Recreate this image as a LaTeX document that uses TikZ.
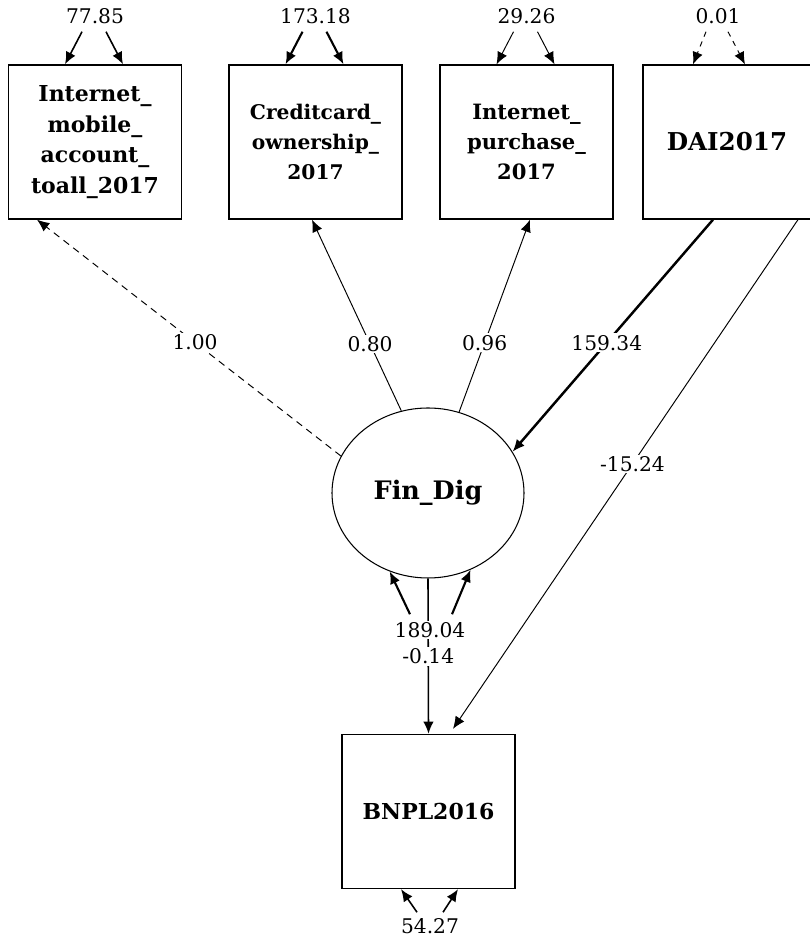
\documentclass[tikz,border=0pt]{standalone}
\usepackage{fontspec}
\setmainfont{DejaVu Serif}
\usetikzlibrary{arrows.meta,shapes.geometric}

\begin{document}
\begin{tikzpicture}[
    obs/.style={draw,line width=.75pt,minimum width=3.46cm,minimum height=3.08cm,align=center,
        font=\bfseries\fontsize{12.5}{17.5}\selectfont},
    lat/.style={draw,ellipse,line width=.6pt,minimum width=3.84cm,minimum height=3.4cm,
        font=\bfseries\fontsize{14.5}{16}\selectfont},
    est/.style={fill=white,inner sep=1pt,font=\fontsize{11.5}{13}\selectfont},
    arr/.style={-{Latex[length=7pt,width=6pt]},line width=.55pt}]

        \useasboundingbox (0,0) rectangle (16.2,18.82); % page
        \clip (0,0) rectangle (16.2,18.82);

        % observed variables
        \node [obs] (iacc) at (1.9,15.98) {Internet\_\\mobile\_\\account\_\\toall\_2017};
        \node [obs,font=\bfseries\fontsize{11.5}{17}\selectfont] (ccown) at (6.31,15.98) {Creditcard\_\\ownership\_\\2017};
        \node [obs,font=\bfseries\fontsize{12}{17}\selectfont] (ipur) at (10.53,15.98) {Internet\_\\purchase\_\\2017};
        \node [obs,minimum width=3.7cm,font=\bfseries\fontsize{14}{17}\selectfont] (dai) at (14.71,15.98) {DAI2017\hspace*{.34cm}}; % cut at right
        \node [obs,font=\bfseries\fontsize{12.5}{17}\selectfont] (bnpl) at (8.57,2.59) {BNPL2016};

        % latent variable
        \node [lat] (findig) at (8.56,8.96) {Fin\_Dig};

        % variances on top
        \node [est] (v1) at (1.9,18.5) {77.85};
        \node [est] (v2) at (6.31,18.5) {173.18};
        \node [est] (v3) at (10.53,18.5) {29.26};
        \node [est] (v4) at (14.36,18.5) {0.01};

        \draw [arr,line width=.9pt] ([xshift=-.26cm,yshift=-.12cm]v1.south) -- ([xshift=-.6cm]iacc.north);
        \draw [arr,line width=.9pt] ([xshift=.22cm,yshift=-.12cm]v1.south) -- ([xshift=.56cm]iacc.north);
        \draw [arr,line width=1.2pt] ([xshift=-.26cm,yshift=-.12cm]v2.south) -- ([xshift=-.6cm]ccown.north);
        \draw [arr,line width=1.2pt] ([xshift=.22cm,yshift=-.12cm]v2.south) -- ([xshift=.56cm]ccown.north);
        \draw [arr] ([xshift=-.26cm,yshift=-.12cm]v3.south) -- ([xshift=-.6cm]ipur.north);
        \draw [arr] ([xshift=.22cm,yshift=-.12cm]v3.south) -- ([xshift=.56cm]ipur.north);
        \draw [arr,dashed] ([xshift=-.24cm,yshift=-.12cm]v4.south) -- ([xshift=-.85cm]dai.north);
        \draw [arr,dashed] ([xshift=.2cm,yshift=-.12cm]v4.south) -- ([xshift=.19cm]dai.north);

        % loadings
        \draw [arr,dash pattern=on 4pt off 3pt] (findig.157) -- node [est,pos=.48] {1.00} ([xshift=-1.16cm]iacc.south);
        \draw [arr] (findig.108) -- node [est,pos=.35] {0.80} ([xshift=-.07cm]ccown.south);
        \draw [arr] (findig.69) -- node [est,pos=.36] {0.96} ([xshift=.07cm]ipur.south);

        % regressions
        \draw [arr,line width=1.4pt] ([xshift=-.45cm]dai.south) -- node [est,pos=.53] {159.34} (findig.26);
        \draw [arr] ([xshift=1.25cm]dai.south) -- node [est,pos=.48] {-15.24} ([xshift=.49cm,yshift=.1cm]bnpl.north);
        \draw [arr,line width=.9pt] (findig.south) -- node [est,pos=.5] {-0.14} (bnpl.north);

        % variance of Fin_Dig
        \node [est] (v5) at (8.6,6.22) {189.04};
        \draw [arr,line width=1.2pt] ([xshift=-.4cm,yshift=.12cm]v5.north) -- (findig.244);
        \draw [arr,line width=1.2pt] ([xshift=.44cm,yshift=.12cm]v5.north) -- (findig.299);

        % variance of BNPL2016
        \node [est] (v6) at (8.6,.3) {54.27};
        \draw [arr,line width=.9pt] ([xshift=-.26cm,yshift=.08cm]v6.north) -- ([xshift=-.55cm]bnpl.south);
        \draw [arr,line width=.9pt] ([xshift=.26cm,yshift=.08cm]v6.north) -- ([xshift=.59cm]bnpl.south);

\end{tikzpicture}
\end{document}
